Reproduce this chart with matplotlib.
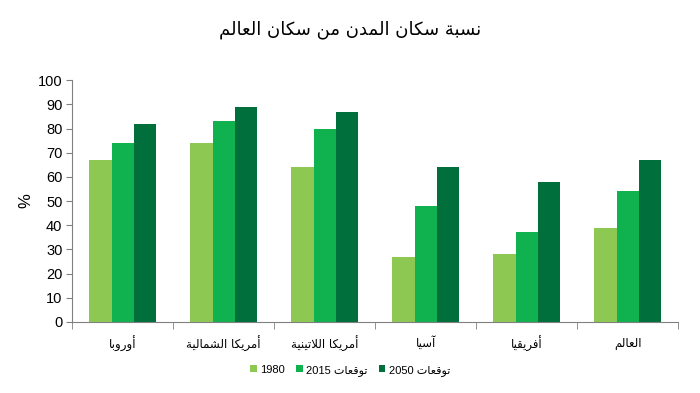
import numpy as np
import matplotlib
matplotlib.use('Agg')
import matplotlib.pyplot as plt

# --- simple arabic shaping (matplotlib draws no joined forms by itself) ---
FORMS = {
    'ا': ('\uFE8D', '\uFE8E', None, None),
    'أ': ('\uFE83', '\uFE84', None, None),
    'آ': ('\uFE81', '\uFE82', None, None),
    'ب': ('\uFE8F', '\uFE90', '\uFE91', '\uFE92'),
    'ة': ('\uFE93', '\uFE94', None, None),
    'ت': ('\uFE95', '\uFE96', '\uFE97', '\uFE98'),
    'د': ('\uFEA9', '\uFEAA', None, None),
    'ر': ('\uFEAD', '\uFEAE', None, None),
    'س': ('\uFEB1', '\uFEB2', '\uFEB3', '\uFEB4'),
    'ش': ('\uFEB5', '\uFEB6', '\uFEB7', '\uFEB8'),
    'ع': ('\uFEC9', '\uFECA', '\uFECB', '\uFECC'),
    'ف': ('\uFED1', '\uFED2', '\uFED3', '\uFED4'),
    'ق': ('\uFED5', '\uFED6', '\uFED7', '\uFED8'),
    'ك': ('\uFED9', '\uFEDA', '\uFEDB', '\uFEDC'),
    'ل': ('\uFEDD', '\uFEDE', '\uFEDF', '\uFEE0'),
    'م': ('\uFEE1', '\uFEE2', '\uFEE3', '\uFEE4'),
    'ن': ('\uFEE5', '\uFEE6', '\uFEE7', '\uFEE8'),
    'و': ('\uFEED', '\uFEEE', None, None),
    'ي': ('\uFEF1', '\uFEF2', '\uFEF3', '\uFEF4'),
    'لا': ('\uFEFB', '\uFEFC', None, None),
    'لأ': ('\uFEF7', '\uFEF8', None, None),
    'لآ': ('\uFEF5', '\uFEF6', None, None),
}


def ar(text):
    # merge lam-alef
    tokens = []
    i = 0
    while i < len(text):
        if text[i] == 'ل' and i + 1 < len(text) and text[i + 1] in 'اأآ':
            tokens.append(text[i:i + 2])
            i += 2
        else:
            tokens.append(text[i])
            i += 1
    out = []
    for k, t in enumerate(tokens):
        if t not in FORMS:
            out.append(t)
            continue
        prev = tokens[k - 1] if k > 0 else None
        nxt = tokens[k + 1] if k + 1 < len(tokens) else None
        j_prev = prev in FORMS and FORMS[prev][2] is not None
        j_next = FORMS[t][2] is not None and nxt in FORMS
        f = FORMS[t]
        if j_prev and j_next:
            out.append(f[3])
        elif j_prev:
            out.append(f[1])
        elif j_next:
            out.append(f[2])
        else:
            out.append(f[0])
    return ''.join(out)[::-1]


# --- data ---
regions = ['أوروبا', 'أمريكا الشمالية', 'أمريكا اللاتينية', 'آسيا', 'أفريقيا', 'العالم']
v1980 = [67, 74, 64, 27, 28, 39]
v2015 = [74, 83, 80, 48, 37, 54]
v2050 = [82, 89, 87, 64, 58, 67]
series_names = ['1980', '2015 ' + ar('توقعات'), '2050 ' + ar('توقعات')]
colors = ['#8DC853', '#10B14F', '#006F3C']

plt.rcParams['font.family'] = ['Liberation Sans', 'DejaVu Sans']

fig = plt.figure(figsize=(7, 3.93), dpi=100)
ax = fig.add_axes([0.103, 0.181, 0.866, 0.615])

x = np.arange(len(regions))
w = 0.22
for i, vals in enumerate([v1980, v2015, v2050]):
    ax.bar(x + (i - 1) * w, vals, w, color=colors[i], label=series_names[i])

ax.set_xlim(-0.5, len(regions) - 0.5)
ax.set_ylim(0, 100)
ax.set_yticks(range(0, 101, 10))
ax.tick_params(axis='y', labelsize=10.5, length=4, color='#808080', pad=3)

ax.set_xticks(x)
ax.set_xticklabels([ar(r) for r in regions], fontsize=8.5,
                   family=['DejaVu Sans'])
ax.tick_params(axis='x', which='major', length=0, pad=10)
ax.set_xticks(np.arange(-0.5, len(regions)), minor=True)
ax.tick_params(axis='x', which='minor', length=5, color='#808080')

for s in ['top', 'right']:
    ax.spines[s].set_visible(False)
for s in ['left', 'bottom']:
    ax.spines[s].set_color('#808080')

ax.set_ylabel('%', fontsize=12, labelpad=3)

fig.text(0.5, 0.925, ar('نسبة سكان المدن من سكان العالم'), ha='center',
         va='center', fontsize=13, family=['DejaVu Sans'])

leg = fig.legend(loc='center', bbox_to_anchor=(0.5, 0.058), ncol=3,
                 frameon=False, handlelength=0.6,
                 handleheight=0.6, handletextpad=0.3, columnspacing=1.0,
                 prop={'family': ['Liberation Sans', 'DejaVu Sans'], 'size': 8})

fig.savefig('out.png', dpi=100)
